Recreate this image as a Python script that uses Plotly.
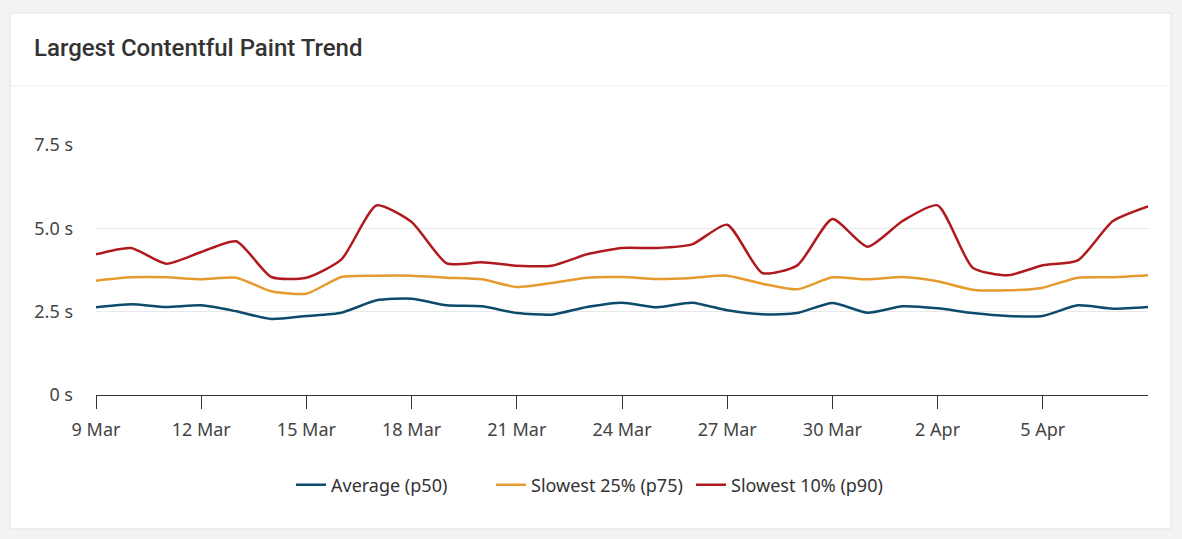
"""Largest Contentful Paint trend card, rebuilt with Plotly."""

import pandas as pd
import plotly.graph_objects as go

# Daily LCP percentiles (seconds), 9 Mar - 8 Apr.
dates = pd.date_range("2024-03-09", "2024-04-08", freq="D")

p50 = [2.63, 2.72, 2.64, 2.69, 2.51, 2.28, 2.37, 2.47, 2.84, 2.89, 2.69,
       2.66, 2.46, 2.41, 2.64, 2.77, 2.63, 2.77, 2.54, 2.42, 2.46,
       2.76, 2.47, 2.66, 2.60, 2.46, 2.37, 2.37, 2.69, 2.59, 2.64]
p75 = [3.43, 3.53, 3.53, 3.47, 3.52, 3.11, 3.04, 3.54, 3.58, 3.58, 3.52,
       3.47, 3.24, 3.36, 3.52, 3.54, 3.48, 3.51, 3.58, 3.34, 3.17,
       3.53, 3.47, 3.54, 3.41, 3.16, 3.14, 3.22, 3.52, 3.53, 3.59]
p90 = [4.22, 4.41, 3.94, 4.29, 4.61, 3.54, 3.52, 4.07, 5.69, 5.19, 3.95,
       3.98, 3.88, 3.88, 4.22, 4.41, 4.41, 4.52, 5.11, 3.66, 3.89,
       5.28, 4.45, 5.22, 5.69, 3.82, 3.59, 3.89, 4.04, 5.22, 5.66]

series = [
    ("Average (p50)", p50, "#0d4a6b"),
    ("Slowest 25% (p75)", p75, "#e69b2e"),
    ("Slowest 10% (p90)", p90, "#b0191e"),
]

y_ticks = [0, 2.5, 5, 7.5]
y_labels = ["0 s", "2.5 s", "5.0 s", "7.5 s"]
x_ticks = dates[:-1:3]  # 9 Mar ... 5 Apr, no label on the last day

# plot area in pixels, used to place the card decorations in paper coords
PW, PH = 1052, 250

fig = go.Figure()
for name, values, color in series:
    fig.add_trace(go.Scatter(
        x=dates,
        y=values,
        mode="lines",
        name=name,
        line=dict(color=color, width=2.5, shape="spline", smoothing=0.6),
        hovertemplate="%{x|%-d %b}: %{y:.2f} s<extra>" + name + "</extra>",
    ))

# card background, header divider
fig.add_shape(type="rect", xref="paper", yref="paper",
              x0=-86 / PW, x1=1075 / PW, y0=-134 / PH, y1=382 / PH,
              line=dict(color="#e2e2e2", width=1), fillcolor="white",
              layer="below")
fig.add_shape(type="line", xref="paper", yref="paper",
              x0=-86 / PW, x1=1075 / PW, y0=309 / PH, y1=309 / PH,
              line=dict(color="#ededed", width=1), layer="below")

fig.add_annotation(
    text="Largest Contentful Paint Trend",
    xref="paper", yref="paper", x=-64 / PW, y=347 / PH,
    xanchor="left", yanchor="middle", showarrow=False,
    font=dict(family="Roboto", size=24, color="#333333", weight=500),
)

fig.update_layout(
    width=1182,
    height=539,
    margin=dict(l=96, r=34, t=145, b=144),
    paper_bgcolor="#f3f3f3",
    plot_bgcolor="white",
    font=dict(family="Noto Sans", size=18, color="#444444"),
    showlegend=True,
    legend=dict(
        orientation="h", x=0.5 - 31 / PW, xanchor="center", y=-90 / PH,
        yanchor="middle", bgcolor="rgba(0,0,0,0)",
        font=dict(size=18, color="#333333"),
        entrywidth=155, entrywidthmode="pixels",
    ),
    hovermode="x unified",
)
fig.update_xaxes(
    range=[dates[0], dates[-1]],
    tickvals=x_ticks,
    tickformat="%-d %b",
    ticks="outside", ticklen=13, tickcolor="#333333",
    showline=True, linecolor="#333333", linewidth=1.2,
    showgrid=False, zeroline=False,
    ticklabelstandoff=5,
)
fig.update_yaxes(
    range=[0, 7.5],
    tickvals=y_ticks,
    ticktext=y_labels,
    gridcolor="#e8e8e8", gridwidth=1,
    zeroline=False, showline=False,
    ticklabelstandoff=22,
)

fig.write_html(
    "out.html",
    config={"displayModeBar": False},
    post_script="document.body.style.margin = '0';",
)
